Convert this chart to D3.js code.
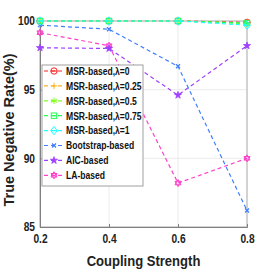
<!DOCTYPE html>
<html>
<head>
<meta charset="utf-8">
<script src="https://cdn.jsdelivr.net/npm/d3@7"></script>
<style>
  body { margin: 0; background: #fff; }
  svg { display: block; }
  text { font-family: "Liberation Sans", Arial, sans-serif; font-weight: bold; }
</style>
</head>
<body>
<svg id="chart" width="273" height="273"></svg>
<script>
// data
const xs = [0.2, 0.4, 0.6, 0.8];
const xTicks = [0.2, 0.4, 0.6, 0.8];
const yTicks = [85, 90, 95, 100];

const msr0   = [100, 100, 100, 99.9];
const msr025 = [100, 100, 100, 99.85];
const msr05  = [100, 100, 100, 99.8];
const msr075 = [100, 100, 100, 99.85];
const msr1   = [100, 100, 100, 99.7];
const boot   = [99.7, 99.4, 96.7, 86.2];
const aic    = [98.05, 98.0, 94.6, 98.2];
const la     = [99.15, 98.2, 88.2, 90.0];

const names = ["MSR-based,\u03bb=0", "MSR-based,\u03bb=0.25", "MSR-based,\u03bb=0.5",
  "MSR-based,\u03bb=0.75", "MSR-based,\u03bb=1", "Bootstrap-based", "AIC-based", "LA-based"];
const colors = ["#ff2020", "#ffb020", "#80ff20", "#20ff50", "#20ffff", "#3f7fff", "#a040ff", "#ff40c8"];
const markers = ["circle", "plus", "asterisk", "square", "diamond", "cross", "star", "hexstar"];
const seriesVals = [msr0, msr025, msr05, msr075, msr1, boot, aic, la];

const svg = d3.select("#chart");
const margin = { top: 21, right: 26, bottom: 46, left: 40 };
const width = 273 - margin.left - margin.right;
const height = 273 - margin.top - margin.bottom;

const x = d3.scaleLinear().domain([0.2, 0.8]).range([0, width]);
const y = d3.scaleLinear().domain([85, 100]).range([height, 0]);

const g = svg.append("g").attr("transform", `translate(${margin.left},${margin.top})`);

// grid
g.selectAll("line.gx").data(xTicks).enter().append("line")
  .attr("x1", d => x(d)).attr("x2", d => x(d)).attr("y1", 0).attr("y2", height)
  .attr("stroke", "#ebebeb").attr("stroke-width", 1);
g.selectAll("line.gy").data(yTicks).enter().append("line")
  .attr("y1", d => y(d)).attr("y2", d => y(d)).attr("x1", 0).attr("x2", width)
  .attr("stroke", "#ebebeb").attr("stroke-width", 1);

// box
g.append("rect").attr("width", width).attr("height", height)
  .attr("fill", "none").attr("stroke", "#b0b0b0").attr("stroke-width", 1);

// axes
const xAxis = g.append("g").attr("transform", `translate(0,${height})`)
  .call(d3.axisBottom(x).tickValues(xTicks).tickSize(-3).tickPadding(7).tickFormat(d3.format(".1f")));
const yAxis = g.append("g")
  .call(d3.axisLeft(y).tickValues(yTicks).tickSize(-3).tickPadding(5));
[xAxis, yAxis].forEach(a => {
  a.select(".domain").attr("stroke", "#808080");
  a.selectAll(".tick line").attr("stroke", "#808080");
  a.selectAll("text").attr("fill", "#222").style("font-size", "12px")
    .style("font-family", '"Liberation Sans", Arial, sans-serif').style("font-weight", "bold");
});
// narrow the tick labels a bit, like the original font
xAxis.selectAll(".tick text").attr("transform", "scale(0.85,1)");
yAxis.selectAll(".tick text").each(function () {
  const t = d3.select(this);
  const xx = +t.attr("x");
  t.attr("transform", `translate(${xx},0) scale(0.85,1) translate(${-xx},0)`);
});

function drawMarker(sel, type, color) {
  const s = 3.2;
  if (type === "circle") {
    sel.append("circle").attr("r", s).attr("fill", "none").attr("stroke", color);
    sel.append("line").attr("x1", -s).attr("x2", s).attr("stroke", color);
  } else if (type === "plus") {
    sel.append("path").attr("d", `M${-s},0H${s}M0,${-s}V${s}`).attr("stroke", color);
  } else if (type === "asterisk") {
    sel.append("path").attr("d", d3.symbol(d3.symbolAsterisk, 30)()).attr("stroke", color).attr("fill", "none");
    sel.append("path").attr("d", `M${-s},0H${s}`).attr("stroke", color);
  } else if (type === "square") {
    sel.append("rect").attr("x", -s + 0.5).attr("y", -s + 0.5).attr("width", 2 * s - 1).attr("height", 2 * s - 1)
      .attr("fill", "none").attr("stroke", color);
    sel.append("line").attr("x1", -s + 0.5).attr("x2", s - 0.5).attr("stroke", color);
  } else if (type === "diamond") {
    sel.append("path").attr("d", `M0,${-s - 1}L${s},0L0,${s + 1}L${-s},0Z`).attr("fill", "none").attr("stroke", color);
    sel.append("line").attr("x1", -s).attr("x2", s).attr("stroke", color);
  } else if (type === "cross") {
    sel.append("path").attr("d", "M-2,-2L2,2M-2,2L2,-2").attr("stroke", color).attr("stroke-width", 1.3);
  } else if (type === "star") {
    sel.append("path").attr("d", d3.symbol(d3.symbolStar, 16)()).attr("fill", color).attr("stroke", color).attr("stroke-width", 0.8);
  } else if (type === "hexstar") {
    sel.append("path").attr("d", d3.symbol(d3.symbolTriangle, 16)()).attr("fill", "none").attr("stroke", color);
    sel.append("path").attr("d", d3.symbol(d3.symbolTriangle, 16)()).attr("transform", "rotate(180)")
      .attr("fill", "none").attr("stroke", color);
  }
}

const line = d3.line().x((d, i) => x(xs[i])).y(d => y(d));

// draw series (bottom ones first so MSR lines end on top)
const order = [7, 6, 5, 0, 1, 2, 3, 4];
order.forEach(k => {
  g.append("path").datum(seriesVals[k]).attr("d", line)
    .attr("fill", "none").attr("stroke", colors[k]).attr("stroke-width", 1.2)
    .attr("stroke-dasharray", "4,3");
  seriesVals[k].forEach((v, i) => {
    const m = g.append("g").attr("transform", `translate(${x(xs[i])},${y(v)})`);
    drawMarker(m, markers[k], colors[k]);
  });
});

// legend
const lg = svg.append("g").attr("transform", "translate(42,65)");
lg.append("rect").attr("width", 101).attr("height", 121)
  .attr("fill", "#fff").attr("stroke", "#a0a0a0").attr("stroke-width", 1);
names.forEach((n, k) => {
  const yy = 6 + k * 14.9;
  const it = lg.append("g").attr("transform", `translate(0,${yy})`);
  it.append("line").attr("x1", 2).attr("x2", 23).attr("stroke", colors[k])
    .attr("stroke-width", 1.2).attr("stroke-dasharray", "4,3");
  const m = it.append("g").attr("transform", "translate(12,0)");
  drawMarker(m, markers[k], colors[k]);
  it.append("text").attr("transform", "translate(24,3.8) scale(0.78,1)").attr("fill", "#111")
    .style("font-size", "11px").text(n);
});

// axis labels
svg.append("text").attr("transform", `translate(${margin.left + width / 2},266) scale(0.9,1)`)
  .attr("text-anchor", "middle").attr("fill", "#222").style("font-size", "14.5px")
  .text("Coupling Strength");
svg.append("text").attr("transform", `translate(14,130) rotate(-90)`)
  .attr("text-anchor", "middle").attr("fill", "#222").style("font-size", "14.5px")
  .text("True Negative Rate(%)");
</script>
</body>
</html>
